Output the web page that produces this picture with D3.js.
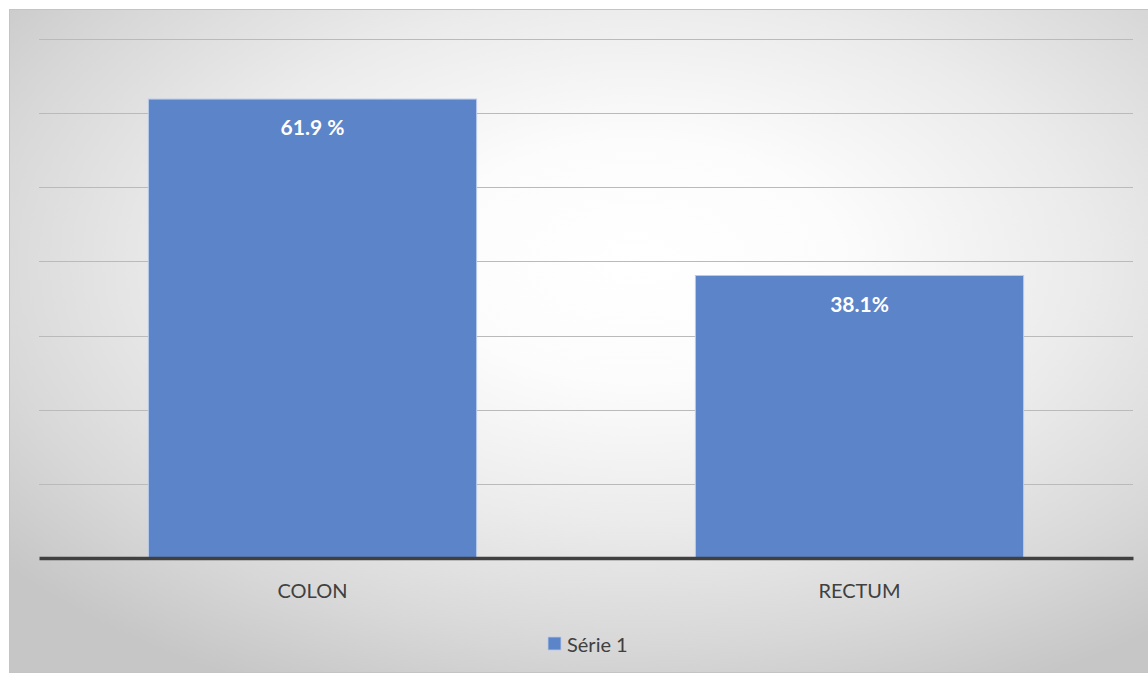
<!DOCTYPE html>
<html>
<head>
<meta charset="utf-8">
<script src="https://cdn.jsdelivr.net/npm/d3@7"></script>
<style>
  html, body { margin: 0; padding: 0; background: #ffffff; }
  svg { display: block; }
</style>
</head>
<body>
<div id="chart"></div>
<script>
// Share of cases by tumour site
const categories = ["COLON", "RECTUM"];
const values = [61.9, 38.1];
const valueLabels = ["61.9 %", "38.1%"];
const seriesName = "Série 1";
const gridTicks = [10, 20, 30, 40, 50, 60, 70];

const W = 1148, H = 674;
const plot = { left: 39, right: 1133, top: 39, bottom: 558 };
const FONT = "Lato, 'Open Sans', sans-serif";
const barColor = "#5b84c9";
const textColor = "#404040";

const svg = d3.select("#chart").append("svg")
  .attr("width", W).attr("height", H);

// Radial background fill of the chart area
const defs = svg.append("defs");
const grad = defs.append("radialGradient")
  .attr("id", "bg")
  .attr("cx", 0.55).attr("cy", 0.38).attr("r", 0.72)
  .attr("fx", 0.55).attr("fy", 0.38);
[[0, "#ffffff"], [0.25, "#fcfcfc"], [0.55, "#ebebeb"], [0.8, "#d8d8d8"], [1, "#c6c6c6"]]
  .forEach(([o, c]) => grad.append("stop").attr("offset", o).attr("stop-color", c));

svg.append("rect")
  .attr("x", 9.5).attr("y", 9.5)
  .attr("width", W - 9).attr("height", H - 11)
  .attr("fill", "url(#bg)")
  .attr("stroke", "#c4c4c4").attr("stroke-width", 1);

const x = d3.scaleBand()
  .domain(categories)
  .range([plot.left, plot.right])
  .paddingInner(0.4)
  .paddingOuter(0.2);

const y = d3.scaleLinear()
  .domain([0, 70])
  .range([plot.bottom, plot.top]);

// Horizontal gridlines
const grid = svg.append("g")
  .attr("transform", `translate(${plot.left},0)`)
  .call(d3.axisLeft(y)
    .tickValues(gridTicks)
    .tickSize(-(plot.right - plot.left))
    .tickFormat(""));
grid.select(".domain").remove();
grid.selectAll(".tick line")
  .attr("stroke", "#bababa")
  .attr("stroke-width", 1)
  .attr("shape-rendering", "crispEdges");

// Bars
svg.append("g").selectAll("rect")
  .data(values)
  .join("rect")
  .attr("x", (d, i) => x(categories[i]))
  .attr("y", d => y(d))
  .attr("width", x.bandwidth())
  .attr("height", d => y(0) - y(d))
  .attr("fill", barColor)
  .attr("stroke", "#b9cbea")
  .attr("stroke-width", 1);

// Value labels inside the bars
svg.append("g").selectAll("text")
  .data(values)
  .join("text")
  .attr("x", (d, i) => x(categories[i]) + x.bandwidth() / 2)
  .attr("y", d => y(d) + 27.5)
  .attr("text-anchor", "middle")
  .attr("dominant-baseline", "central")
  .attr("fill", "#ffffff")
  .attr("font-family", FONT)
  .attr("font-weight", "bold")
  .attr("font-size", 21)
  .text((d, i) => valueLabels[i]);

// Category axis
const xAxis = svg.append("g")
  .attr("transform", `translate(0,${plot.bottom})`)
  .call(d3.axisBottom(x).tickSize(0).tickPadding(0));
xAxis.select(".domain")
  .attr("stroke", textColor)
  .attr("stroke-width", 3.5);
xAxis.selectAll(".tick text")
  .attr("y", 32)
  .attr("dy", null)
  .attr("dominant-baseline", "central")
  .attr("fill", textColor)
  .attr("font-family", FONT)
  .attr("font-size", 20);

// Legend
const legend = svg.append("g").attr("transform", "translate(548,637)");
legend.append("rect")
  .attr("width", 13).attr("height", 13)
  .attr("fill", barColor)
  .attr("stroke", "#b9cbea").attr("stroke-width", 0.8);
legend.append("text")
  .attr("x", 19).attr("y", 7)
  .attr("dominant-baseline", "central")
  .attr("fill", textColor)
  .attr("font-family", FONT)
  .attr("font-size", 20)
  .text(seriesName);
</script>
</body>
</html>
